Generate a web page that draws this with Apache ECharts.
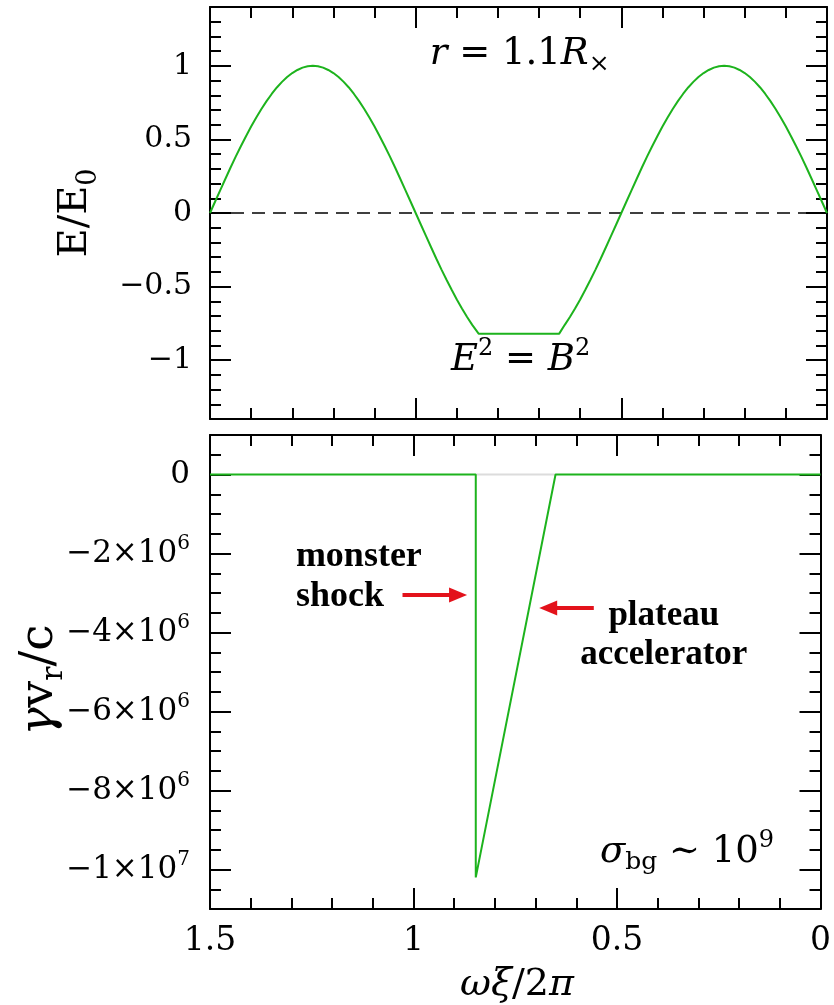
<!DOCTYPE html>
<html><head><meta charset="utf-8">
<script src="https://cdn.jsdelivr.net/npm/echarts@6/dist/echarts.min.js"></script>
<style>html,body{margin:0;padding:0;background:#fff}#c{width:834px;height:1005px}</style>
</head><body><div id="c"></div><script>
// Upper panel: phase ωξ/2π and field E/E0 along the wave (flat where E^2 = B^2)
const fieldPhase = [
  1.5, 1.4875, 1.475, 1.4625, 1.45, 1.4375, 1.425, 1.4125, 1.4, 1.3875, 1.375, 1.3625, 1.35, 1.3375, 1.325, 1.3125, 1.3, 1.2875, 1.275, 1.2625,
  1.25, 1.2375, 1.225, 1.2125, 1.2, 1.1875, 1.175, 1.1625, 1.15, 1.1375, 1.125, 1.1125, 1.1, 1.0875, 1.075, 1.0625, 1.05, 1.0375, 1.025, 1.0125,
  1.0, 0.9875, 0.975, 0.9625, 0.95, 0.9375, 0.925, 0.9125, 0.9, 0.8875, 0.875, 0.8625, 0.847,
  0.651, 0.6375, 0.625, 0.6125, 0.6, 0.5875, 0.575, 0.5625, 0.55, 0.5375, 0.525, 0.5125,
  0.5, 0.4875, 0.475, 0.4625, 0.45, 0.4375, 0.425, 0.4125, 0.4, 0.3875, 0.375, 0.3625, 0.35, 0.3375, 0.325, 0.3125, 0.3, 0.2875, 0.275, 0.2625,
  0.25, 0.2375, 0.225, 0.2125, 0.2, 0.1875, 0.175, 0.1625, 0.15, 0.1375, 0.125, 0.1125, 0.1, 0.0875, 0.075, 0.0625, 0.05, 0.0375, 0.025, 0.0125, 0];
const fieldValue = [
  0, 0.078, 0.156, 0.233, 0.309, 0.383, 0.454, 0.522, 0.588, 0.649, 0.707, 0.760, 0.809, 0.853, 0.891, 0.924, 0.951, 0.972, 0.988, 0.997,
  1, 0.997, 0.988, 0.972, 0.951, 0.924, 0.891, 0.853, 0.809, 0.760, 0.707, 0.649, 0.588, 0.522, 0.454, 0.383, 0.309, 0.233, 0.156, 0.078,
  0, -0.078, -0.156, -0.233, -0.309, -0.383, -0.454, -0.522, -0.588, -0.649, -0.707, -0.760, -0.82,
  -0.82, -0.760, -0.707, -0.649, -0.588, -0.522, -0.454, -0.383, -0.309, -0.233, -0.156, -0.078,
  0, 0.078, 0.156, 0.233, 0.309, 0.383, 0.454, 0.522, 0.588, 0.649, 0.707, 0.760, 0.809, 0.853, 0.891, 0.924, 0.951, 0.972, 0.988, 0.997,
  1, 0.997, 0.988, 0.972, 0.951, 0.924, 0.891, 0.853, 0.809, 0.760, 0.707, 0.649, 0.588, 0.522, 0.454, 0.383, 0.309, 0.233, 0.156, 0.078, 0];

// Lower panel: radial four-velocity γv_r/c
const velPhase = [1.5, 0.847, 0.847, 0.651, 0];
const velValue = [0, 0, -1.02e7, 0, 0];
const gapPhase = [0.847, 0.651];
const gapValue = [0, 0];

// Major tick values
const phaseTicks = [0, 0.5, 1, 1.5];
const fieldTicks = [-1, -0.5, 0, 0.5, 1];
const velTicks = [-1e7, -8e6, -6e6, -4e6, -2e6, 0];

const GREEN = '#1db31d';
const RED = '#e3121b';
const SERIF = 'DejaVu Serif';

const zip = (xs, ys) => xs.map((x, i) => [x, ys[i]]);

const chart = echarts.init(document.getElementById('c'), null, { renderer: 'canvas' });

const frameLine = { show: true, onZero: false, lineStyle: { color: '#000', width: 2 } };

function xAxisPair(g, labels, fontSize) {
  return ['bottom', 'top'].map(pos => ({
    type: 'value', gridIndex: g, position: pos, min: 0, max: 1.5, interval: 0.5, inverse: true,
    axisLine: frameLine,
    axisTick: { show: true, inside: true, length: 21, customValues: phaseTicks, lineStyle: { color: '#000', width: 2 } },
    minorTick: { show: true, splitNumber: 5, length: 11, lineStyle: { color: '#000', width: 2 } },
    axisLabel: { show: labels && pos === 'bottom', margin: 16, fontFamily: SERIF, fontSize: fontSize, color: '#000' },
    splitLine: { show: false }, minorSplitLine: { show: false }
  }));
}

function yAxisSet(g, min, max, minorStep, majors, fmt, labelOpt, rich) {
  const out = [];
  ['left', 'right'].forEach(pos => {
    out.push({
      type: 'value', gridIndex: g, position: pos, min: min, max: max, interval: minorStep,
      axisLine: frameLine,
      axisTick: { show: true, inside: true, length: 11, lineStyle: { color: '#000', width: 2 } },
      axisLabel: { show: false }, splitLine: { show: false }
    });
    out.push({
      type: 'value', gridIndex: g, position: pos, min: min, max: max,
      axisLine: { show: false, onZero: false },
      axisTick: { show: true, inside: true, length: 21, customValues: majors, lineStyle: { color: '#000', width: 2 } },
      axisLabel: Object.assign({ show: pos === 'left', customValues: majors, formatter: fmt, color: '#000', fontFamily: SERIF, rich: rich }, labelOpt),
      splitLine: { show: false }
    });
  });
  return out;
}

const minus = v => (v < 0 ? '\u2212' : '') + Math.abs(v);
const sciLabel = v => {
  if (v === 0) return '{n|0}';
  const e = Math.floor(Math.log10(Math.abs(v)) + 1e-9);
  const m = Math.round(Math.abs(v) / Math.pow(10, e));
  return '{n|' + (v < 0 ? '\u2212' : '') + m + '\u00d710}{p|' + e + '}';
};

const option = {
  animation: false,
  backgroundColor: '#fff',
  grid: [
    { left: 210, right: 7, top: 7, height: 412 },
    { left: 210, right: 7, top: 435, height: 474 }
  ],
  xAxis: [...xAxisPair(0, false, 33), ...xAxisPair(1, true, 33)],
  yAxis: [
    ...yAxisSet(0, -1.4, 1.4, 0.1, fieldTicks, minus, { fontSize: 30, margin: 18 }),
    ...yAxisSet(1, -1.1e7, 1e6, 5e5, velTicks, sciLabel, { margin: 20 }, {
      n: { fontFamily: SERIF, fontSize: 31, lineHeight: 40, color: '#000' },
      p: { fontFamily: SERIF, fontSize: 20, lineHeight: 18, verticalAlign: 'top', color: '#000' }
    })
  ],
  series: [
    {
      type: 'line', xAxisIndex: 0, yAxisIndex: 0, data: [[1.5, 0], [0, 0]], showSymbol: false, silent: true,
      lineStyle: { color: '#000', width: 1.5, type: [13, 8] }
    },
    {
      type: 'line', xAxisIndex: 0, yAxisIndex: 0, data: zip(fieldPhase, fieldValue), showSymbol: false,
      lineStyle: { color: GREEN, width: 2 }
    },
    {
      type: 'line', xAxisIndex: 2, yAxisIndex: 4, data: zip(gapPhase, gapValue), showSymbol: false, silent: true,
      lineStyle: { color: '#dcdcdc', width: 2 }
    },
    {
      type: 'line', xAxisIndex: 2, yAxisIndex: 4, data: zip(velPhase, velValue), showSymbol: false,
      lineStyle: { color: GREEN, width: 2 },
      markLine: {
        silent: true, symbol: ['none', 'triangle'], symbolSize: [15, 18],
        label: { show: false },
        lineStyle: { color: RED, width: 4, type: 'solid' },
        data: [
          [{ coord: [1.027, -3.05e6] }, { coord: [0.8905, -3.05e6] }],
          [{ coord: [0.557, -3.38e6] }, { coord: [0.669, -3.38e6] }]
        ]
      }
    }
  ]
};
chart.setOption(option);

// Annotations, anchored in data coordinates of each panel
const upperPx = (x, y) => chart.convertToPixel({ gridIndex: 0 }, [x, y]);
const lowerPx = (x, y) => chart.convertToPixel({ gridIndex: 1 }, [x, y]);

function txt(p, text, rich, extra) {
  return Object.assign({
    type: 'text', x: p[0], y: p[1], silent: true,
    style: { text: text, rich: rich, align: 'center', verticalAlign: 'middle' }
  }, extra || {});
}

const rxPos = upperPx(0.747, 1.08);
const ebPos = upperPx(0.745, -1.0);
const msPos = lowerPx(1.289, -2.59e6);
const paPos = lowerPx(0.385, -4.07e6);
const sgPos = lowerPx(0.328, -9.56e6);
const yUpper = upperPx(0, 0)[1];
const yLower = lowerPx(0, -5.2e6)[1];

chart.setOption({
  graphic: [
    txt(rxPos, '{i|r}{m| = 1.1}{i|R}{s|\u00d7}', {
      i: { fontFamily: SERIF, fontStyle: 'italic', fontSize: 37, lineHeight: 46, color: GREEN },
      m: { fontFamily: SERIF, fontSize: 37, lineHeight: 46, color: GREEN },
      s: { fontFamily: SERIF, fontSize: 25, lineHeight: 24, verticalAlign: 'bottom', color: GREEN }
    }),
    txt(ebPos, '{i|E}{p|2}{m| = }{i|B}{p|2}', {
      i: { fontFamily: SERIF, fontStyle: 'italic', fontSize: 37, lineHeight: 46, color: '#000' },
      m: { fontFamily: SERIF, fontSize: 37, lineHeight: 46, color: '#000' },
      p: { fontFamily: SERIF, fontSize: 24, lineHeight: 22, verticalAlign: 'top', color: '#000' }
    }),
    {
      type: 'text', x: msPos[0], y: msPos[1], silent: true,
      style: { text: 'monster\nshock', font: 'bold 36px "Liberation Serif"', fill: '#000', align: 'left', verticalAlign: 'middle', lineHeight: 40 }
    },
    {
      type: 'text', x: paPos[0], y: paPos[1], silent: true,
      style: { text: 'plateau\naccelerator', font: 'bold 35px "Liberation Serif"', fill: '#000', align: 'center', verticalAlign: 'middle', lineHeight: 39 }
    },
    txt(sgPos, '{i|\u03c3}{s|bg}{m| \u223c 10}{p|9}', {
      i: { fontFamily: SERIF, fontStyle: 'italic', fontSize: 37, lineHeight: 46, color: '#000' },
      m: { fontFamily: SERIF, fontSize: 37, lineHeight: 46, color: '#000' },
      s: { fontFamily: SERIF, fontSize: 25, lineHeight: 25, verticalAlign: 'bottom', color: '#000' },
      p: { fontFamily: SERIF, fontSize: 24, lineHeight: 22, verticalAlign: 'top', color: '#000' }
    }),
    // axis titles
    txt([76, yUpper], '{m|E/E}{s|0}', {
      m: { fontFamily: SERIF, fontSize: 40, lineHeight: 52, color: '#000' },
      s: { fontFamily: SERIF, fontSize: 27, lineHeight: 27, verticalAlign: 'bottom', color: '#000' }
    }, { rotation: Math.PI / 2 }),
    txt([40, yLower], '{g|\u03b3}{m|v}{s|r}{m|/c}', {
      g: { fontFamily: SERIF, fontStyle: 'italic', fontSize: 47, lineHeight: 58, color: '#000' },
      m: { fontFamily: SERIF, fontSize: 47, lineHeight: 58, color: '#000' },
      s: { fontFamily: SERIF, fontSize: 30, lineHeight: 30, verticalAlign: 'bottom', color: '#000' }
    }, { rotation: Math.PI / 2 }),
    txt([517, 985], '{i|\u03c9\u03be}{m|/2}{i|\u03c0}', {
      i: { fontFamily: SERIF, fontStyle: 'italic', fontSize: 38, lineHeight: 46, color: '#000' },
      m: { fontFamily: SERIF, fontSize: 38, lineHeight: 46, color: '#000' }
    })
  ]
});
</script></body></html>
